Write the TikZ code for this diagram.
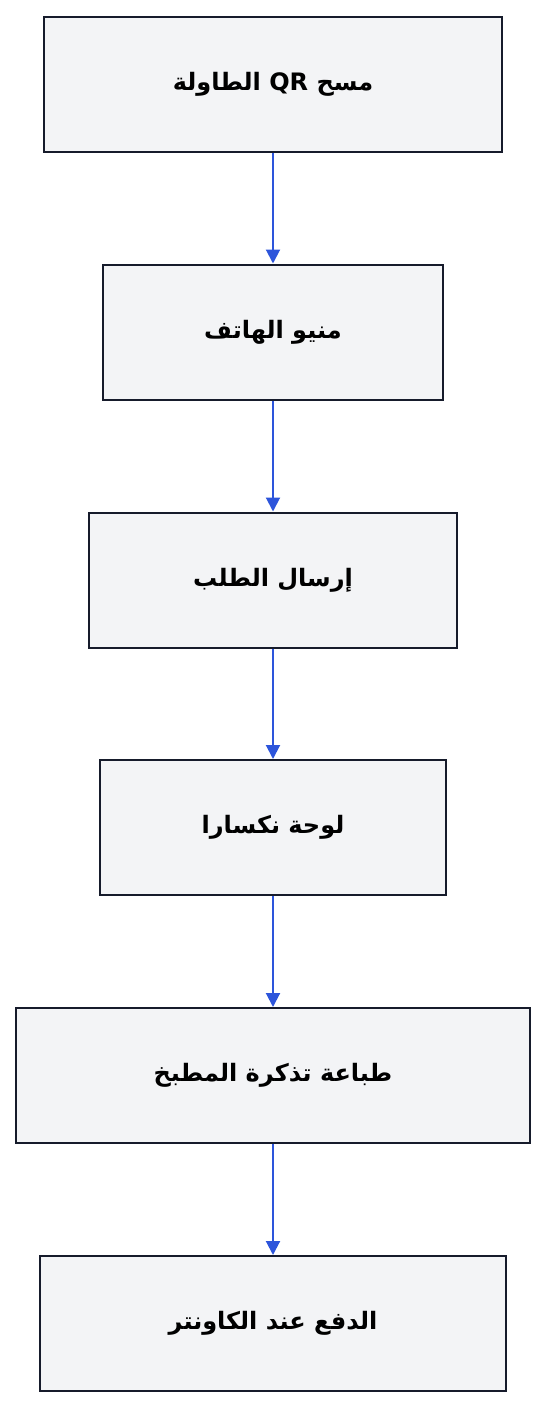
\documentclass[tikz,border=0pt]{standalone}
\usepackage{fontspec}
\TeXXeTstate=1
\newfontfamily\arabicfont[Script=Arabic]{DejaVu Sans}
\usetikzlibrary{arrows.meta}
\definecolor{boxfill}{HTML}{F3F4F6}
\definecolor{boxline}{HTML}{161B2B}
\definecolor{arrowblue}{HTML}{2D55DB}
\tikzset{
  stepbox/.style={draw=boxline, fill=boxfill, line width=2pt, minimum height=135pt, inner sep=0pt, font=\arabicfont\bfseries\fontsize{24}{28}\selectfont},
  flow/.style={draw=arrowblue, line width=2pt, -{Triangle[width=14pt,length=14pt]}}
}
\begin{document}
\begin{tikzpicture}[x=1pt,y=-1pt]
\useasboundingbox (0,0) rectangle (546,1408);
\node[stepbox, minimum width=458pt] (a) at (273,84) {\beginR مسح \beginL QR\endL{} الطاولة\endR};
\node[stepbox, minimum width=340pt] (b) at (273,332) {\beginR منيو الهاتف\endR};
\node[stepbox, minimum width=368pt] (c) at (273,580) {\beginR إرسال الطلب\endR};
\node[stepbox, minimum width=346pt] (d) at (273,827.5) {\beginR لوحة نكسارا\endR};
\node[stepbox, minimum width=514pt] (e) at (273,1075.5) {\beginR طباعة تذكرة المطبخ\endR};
\node[stepbox, minimum width=466pt] (f) at (273,1323.5) {\beginR الدفع عند الكاونتر\endR};
\draw[flow] (a) -- (b);
\draw[flow] (b) -- (c);
\draw[flow] (c) -- (d);
\draw[flow] (d) -- (e);
\draw[flow] (e) -- (f);
\end{tikzpicture}
\end{document}
